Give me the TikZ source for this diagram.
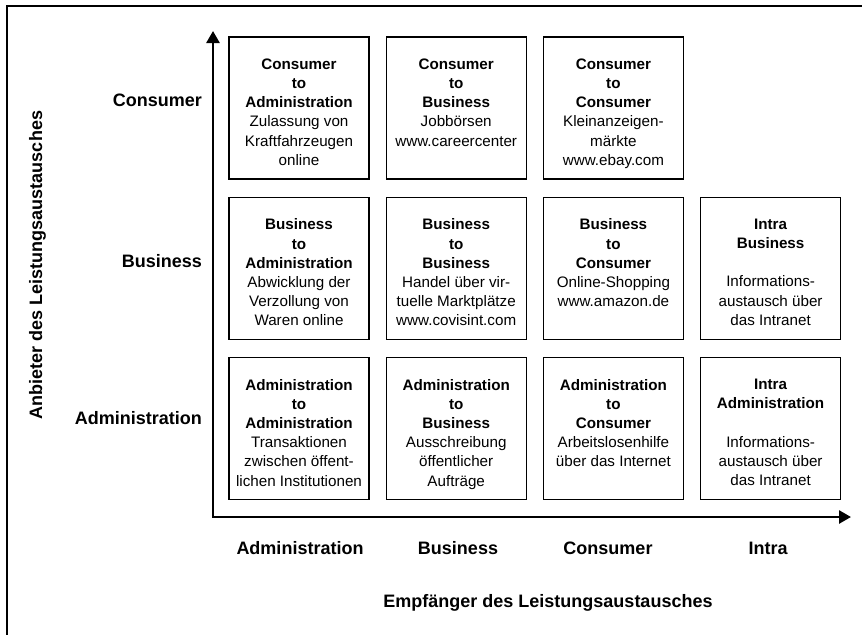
\documentclass[tikz,border=0pt]{standalone}
\usepackage{fontspec}
\setmainfont{Liberation Sans}
\usetikzlibrary{positioning,arrows.meta}

\begin{document}
\begin{tikzpicture}[x=1pt,y=-1pt,node distance=16pt,
                    cell/.style={draw,line width=1.2pt,minimum width=140pt,minimum height=142pt,inner sep=0pt},
                    cell text/.style={align=center,inner sep=0pt,font=\fontsize{15.2}{19.2}\selectfont},
                    axis label/.style={inner sep=0pt,font=\fontsize{18}{22}\selectfont\bfseries},
                    axis/.style={line width=2.6pt,{Triangle[length=12pt,width=13pt]}-{Triangle[length=12pt,width=13pt]}}]

  \useasboundingbox (0,0) rectangle (862,635);
  \draw[line width=1.5pt] (862,6) -- (7,6) -- (7,635);

  \node[cell] (ca) at (299,108) {};
  \node[cell] (cb) [right=of ca] {};
  \node[cell] (cc) [right=of cb] {};
  \node[cell] (ba) [below=17pt of ca] {};
  \node[cell] (bb) [right=of ba] {};
  \node[cell] (bc) [right=of bb] {};
  \node[cell] (bi) [right=of bc] {};
  \node[cell] (aa) [below=17pt of ba] {};
  \node[cell] (ab) [right=of aa] {};
  \node[cell] (ac) [right=of ab] {};
  \node[cell] (ai) [right=of ac] {};

  \node[cell text] (ca-t) [below=22pt of ca.north] {\textbf{Consumer}\\\textbf{to}\\\textbf{Administration}\\Zulassung von\\Kraftfahrzeugen\\online};
  \node[cell text] (cb-t) [below=22pt of cb.north] {\textbf{Consumer}\\\textbf{to}\\\textbf{Business}\\Jobbörsen\\www.careercenter};
  \node[cell text] (cc-t) [below=22pt of cc.north] {\textbf{Consumer}\\\textbf{to}\\\textbf{Consumer}\\Kleinanzeigen-\\märkte\\www.ebay.com};
  \node[cell text] (ba-t) [below=22pt of ba.north] {\textbf{Business}\\\textbf{to}\\\textbf{Administration}\\Abwicklung der\\Verzollung von\\Waren online};
  \node[cell text] (bb-t) [below=22pt of bb.north] {\textbf{Business}\\\textbf{to}\\\textbf{Business}\\Handel über vir-\\tuelle Marktplätze\\www.covisint.com};
  \node[cell text] (bc-t) [below=22pt of bc.north] {\textbf{Business}\\\textbf{to}\\\textbf{Consumer}\\Online-Shopping\\www.amazon.de};
  \node[cell text] (bi-t) [below=22pt of bi.north] {\textbf{Intra}\\\textbf{Business}\\[19.2pt]Informations-\\austausch über\\das Intranet};
  \node[cell text] (aa-t) [below=22pt of aa.north] {\textbf{Administration}\\\textbf{to}\\\textbf{Administration}\\Transaktionen\\zwischen öffent-\\lichen Institutionen};
  \node[cell text] (ab-t) [below=22pt of ab.north] {\textbf{Administration}\\\textbf{to}\\\textbf{Business}\\Ausschreibung\\öffentlicher\\Aufträge};
  \node[cell text] (ac-t) [below=22pt of ac.north] {\textbf{Administration}\\\textbf{to}\\\textbf{Consumer}\\Arbeitslosenhilfe\\über das Internet};
  \node[cell text] (ai-t) [below=22pt of ai.north] {\textbf{Intra}\\\textbf{Administration}\\[19.2pt]Informations-\\austausch über\\das Intranet};

  \coordinate (ytip) at (213,31);
  \coordinate (xtip) at (851,517);
  \draw[axis] (ytip) |- (xtip);

  \node[axis label,anchor=east] (row c) at (202,100) {Consumer};
  \node[axis label,anchor=east] (row b) at (202,261) {Business};
  \node[axis label,anchor=east] (row a) at (202,418) {Administration};

  \node[axis label] (col a) at (300,548) {Administration};
  \node[axis label] (col b) at (458,548) {Business};
  \node[axis label] (col c) at (608,548) {Consumer};
  \node[axis label] (col i) at (768,548) {Intra};

  \node[axis label,anchor=base] (xtitle) at (548,607) {Empfänger des Leistungsaustausches};
  \node[axis label,anchor=base,rotate=90] (ytitle) at (42,265) {Anbieter des Leistungsaustausches};
\end{tikzpicture}
\end{document}
